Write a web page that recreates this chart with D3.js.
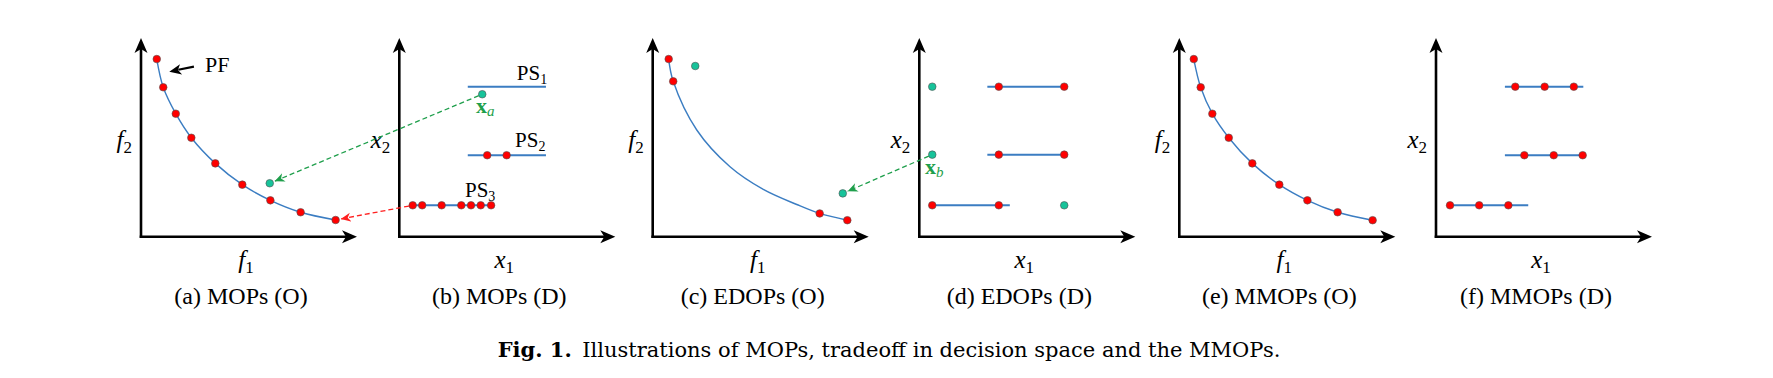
<!DOCTYPE html>
<html>
<head>
<meta charset="utf-8">
<script src="https://cdn.jsdelivr.net/npm/d3@7"></script>
<style>
  body { margin: 0; background: #fff; }
  text { font-family: "Liberation Serif", "Times New Roman", serif; fill: #000; }
</style>
</head>
<body>
<svg id="fig" width="1773" height="378"></svg>
<script>
// all values are in panel units: x and y both run 0..10 along each axis

// (a) MOPs (O) - sampled Pareto front + one solution off the front
const pfA = [[0.73,8.94],[1.03,7.52],[1.61,6.19],[2.33,4.98],[3.44,3.69],[4.69,2.62],[5.99,1.83],[7.39,1.23],[9.01,0.84]];
const greenA = [[5.96,2.69]];

// (b) MOPs (D) - three Pareto subsets
const psB = [[3.17,6.79,7.55],[3.17,6.79,4.10],[0.62,4.25,1.58]];
const psNames = ['1','2','3'];
const redB = [[4.07,4.10],[4.97,4.10],[0.62,1.58],[1.06,1.58],[1.96,1.58],[2.87,1.58],[3.32,1.58],[3.77,1.58],[4.25,1.58]];
const greenB = [[3.84,7.17]];

// (c) EDOPs (O)
const curveC = [[0.74,8.94],[0.95,7.82],[2.04,5.37],[3.58,3.52],[5.12,2.38],[6.67,1.62],[7.73,1.17],[9.01,0.83]];
const redC = [[0.74,8.94],[0.95,7.82],[7.73,1.17],[9.01,0.83]];
const greenC = [[1.97,8.59],[8.80,2.18]];

// (d) EDOPs (D)
const segD = [[3.15,6.71,7.55],[3.15,6.71,4.13],[0.60,4.19,1.58]];
const redD = [[3.68,7.55],[6.71,7.55],[3.68,4.13],[6.71,4.13],[0.60,1.58],[3.68,1.58]];
const greenD = [[0.60,7.55],[0.60,4.13],[6.71,1.58]];

// (e) MMOPs (O)
const pfE = [[0.67,8.94],[0.99,7.52],[1.53,6.19],[2.29,4.98],[3.38,3.69],[4.63,2.62],[5.93,1.83],[7.33,1.23],[8.95,0.83]];

// (f) MMOPs (D)
const segF = [[3.19,6.82,7.55],[3.19,6.94,4.10],[0.50,4.27,1.58]];
const redF = [[3.67,7.55],[5.03,7.55],[6.38,7.55],[4.09,4.10],[5.45,4.10],[6.79,4.10],[0.65,1.58],[2.00,1.58],[3.35,1.58]];

const captions = ['(a) MOPs (O)','(b) MOPs (D)','(c) EDOPs (O)','(d) EDOPs (D)','(e) MMOPs (O)','(f) MMOPs (D)'];
const xNames = ['f','x','f','x','f','x'];

const RED = '#ff0000', TEAL = '#17c39a', BLUE = '#3b7dc2', DGREEN = '#1f9f4c', DRED = '#ff2020';
const R = 3.8;

const svg = d3.select('#fig');

const panelX0 = [141, 399.3, 652.7, 919.3, 1179.3, 1436];
const AXLEN = 216, YBOT = 236.7, YTOP = 38;

const panels = {};
'abcdef'.split('').forEach((id, i) => {
  let x0 = panelX0[i];
  panels[id] = {
    g: svg.append('g'),
    x: d3.scaleLinear().domain([0, 10]).range([x0, x0 + AXLEN]),
    y: d3.scaleLinear().domain([0, 10]).range([YBOT, YTOP]),
    i: i
  };
});

// arrowhead for dashed connectors
const defs = svg.append('defs');
[['hGreen', DGREEN], ['hRed', DRED]].forEach(([id, c]) => {
  defs.append('marker')
    .attr('id', id)
    .attr('viewBox', '-10 -5 11 10')
    .attr('refX', 0).attr('refY', 0)
    .attr('markerWidth', 11).attr('markerHeight', 10)
    .attr('markerUnits', 'userSpaceOnUse')
    .attr('orient', 'auto')
    .append('path')
      .attr('d', 'M0,0 L-10,-4.5 L-7,0 L-10,4.5 Z')
      .attr('fill', c);
});

function head(g, x, y, angle, size) {
  let s = size || 1;
  g.append('path')
    .attr('d', `M0,0 L${-15*s},${-6.5*s} L${-11*s},0 L${-15*s},${6.5*s} Z`)
    .attr('transform', `translate(${x},${y}) rotate(${angle})`)
    .attr('fill', '#000');
}

function subLabel(g, x, y, main, sub, o) {
  o = o || {};
  let t = g.append('text')
    .attr('x', x).attr('y', y)
    .attr('text-anchor', o.anchor || 'start')
    .style('font-size', (o.size || 22) + 'px')
    .style('fill', o.color || '#000');
  t.append('tspan')
    .style('font-style', o.mainItalic ? 'italic' : 'normal')
    .style('font-weight', o.bold ? 'bold' : 'normal')
    .text(main);
  t.append('tspan')
    .attr('dy', o.subDy || 4)
    .style('font-size', (o.subSize || 15) + 'px')
    .style('font-style', o.subItalic ? 'italic' : 'normal')
    .text(sub);
  return t;
}

// axes, axis labels, subcaptions
Object.values(panels).forEach(p => {
  let g = p.g;
  let xa = p.x(0), xb = p.x(10), yb = p.y(0), yt = p.y(10);
  g.append('line').attr('x1', xa).attr('y1', yb + 1.2).attr('x2', xa).attr('y2', yt + 10)
    .attr('stroke', '#000').attr('stroke-width', 2.6);
  g.append('line').attr('x1', xa - 1.3).attr('y1', yb).attr('x2', xb - 10).attr('y2', yb)
    .attr('stroke', '#000').attr('stroke-width', 2.6);
  head(g, xa, yt, -90);
  head(g, xb, yb, 0);

  let nm = xNames[p.i];
  subLabel(g, xa - 9, 148, nm, '2', {anchor: 'end', mainItalic: true, size: 25, subSize: 17, subDy: 5});
  subLabel(g, (xa + xb) / 2 - 3, 268, nm, '1', {anchor: 'middle', mainItalic: true, size: 25, subSize: 17, subDy: 5});

  g.append('text')
    .attr('x', (xa + xb) / 2 - 8).attr('y', 304)
    .attr('text-anchor', 'middle')
    .style('font-size', '24px')
    .text(captions[p.i]);
});

function curve(p, pts) {
  p.g.append('path')
    .datum(pts)
    .attr('fill', 'none')
    .attr('stroke', BLUE)
    .attr('stroke-width', 1.4)
    .attr('d', d3.line().x(d => p.x(d[0])).y(d => p.y(d[1])).curve(d3.curveCatmullRom.alpha(0.5)));
}

function segs(p, rows) {
  p.g.selectAll(null).data(rows).enter().append('line')
    .attr('x1', d => p.x(d[0])).attr('x2', d => p.x(d[1]))
    .attr('y1', d => p.y(d[2])).attr('y2', d => p.y(d[2]))
    .attr('stroke', BLUE).attr('stroke-width', 2);
}

function dots(p, pts, fill) {
  p.g.selectAll(null).data(pts).enter().append('circle')
    .attr('cx', d => p.x(d[0])).attr('cy', d => p.y(d[1]))
    .attr('r', R)
    .attr('fill', fill)
    .attr('stroke', '#505050').attr('stroke-width', 0.6);
}

// (a)
curve(panels.a, pfA);
dots(panels.a, pfA, RED);
dots(panels.a, greenA, TEAL);
// (b)
segs(panels.b, psB);
dots(panels.b, redB, RED);
dots(panels.b, greenB, TEAL);
// (c)
curve(panels.c, curveC);
dots(panels.c, redC, RED);
dots(panels.c, greenC, TEAL);
// (d)
segs(panels.d, segD);
dots(panels.d, redD, RED);
dots(panels.d, greenD, TEAL);
// (e)
curve(panels.e, pfE);
dots(panels.e, pfE, RED);
// (f)
segs(panels.f, segF);
dots(panels.f, redF, RED);

// annotations
let pa = panels.a;
pa.g.append('line')
  .attr('x1', pa.x(2.45)).attr('y1', pa.y(8.56))
  .attr('x2', pa.x(1.31) + 9).attr('y2', pa.y(8.30) - 2)
  .attr('stroke', '#000').attr('stroke-width', 2.2);
head(pa.g, pa.x(1.31), pa.y(8.30),
  Math.atan2(pa.y(8.30) - pa.y(8.56), pa.x(1.31) - pa.x(2.45)) * 180 / Math.PI, 0.8);
pa.g.append('text').attr('x', pa.x(2.96)).attr('y', pa.y(8.29))
  .style('font-size', '22px').text('PF');

let pb = panels.b;
const psLabelPos = [[5.44,7.89],[5.36,4.53],[3.04,2.01]];
psLabelPos.forEach((d, k) => {
  subLabel(pb.g, pb.x(d[0]), pb.y(d[1]), 'PS', psNames[k], {size: 21, subSize: 14});
});
subLabel(pb.g, pb.x(3.55), pb.y(6.23), 'x', 'a', {size: 22, subSize: 15, bold: true, subItalic: true, color: DGREEN, subDy: 3});
let pd = panels.d;
subLabel(pd.g, pd.x(0.26), pd.y(3.16), 'x', 'b', {size: 22, subSize: 15, bold: true, subItalic: true, color: DGREEN, subDy: 3});

// dashed links between decision and objective space
const links = [
  ['b', [3.84,7.17], 'a', [5.96,2.69], DGREEN, 'hGreen'],
  ['b', [0.62,1.58], 'a', [9.01,0.84], DRED, 'hRed'],
  ['d', [0.60,4.13], 'c', [8.80,2.18], DGREEN, 'hGreen']
];
links.forEach(([pf, a, pt, b, col, mk]) => {
  let x1 = panels[pf].x(a[0]), y1 = panels[pf].y(a[1]);
  let x2 = panels[pt].x(b[0]), y2 = panels[pt].y(b[1]);
  let L = Math.hypot(x2 - x1, y2 - y1);
  let s = (R + 1.5) / L;
  svg.append('line')
    .attr('x1', x1 - (x1 - x2) * (R / L)).attr('y1', y1 - (y1 - y2) * (R / L))
    .attr('x2', x2 + (x1 - x2) * s).attr('y2', y2 + (y1 - y2) * s)
    .attr('stroke', col).attr('stroke-width', 1.3)
    .attr('stroke-dasharray', '5,3')
    .attr('marker-end', `url(#${mk})`);
});

// figure caption
let cap = svg.append('text')
  .attr('x', 889).attr('y', 357)
  .attr('text-anchor', 'middle')
  .style('font-family', '"DejaVu Serif", serif')
  .style('font-size', '21px');
cap.append('tspan').style('font-weight', 'bold').text('Fig. 1.');
cap.append('tspan').text('\u2002Illustrations of MOPs, tradeoff in decision space and the MMOPs.');
</script>
</body>
</html>
